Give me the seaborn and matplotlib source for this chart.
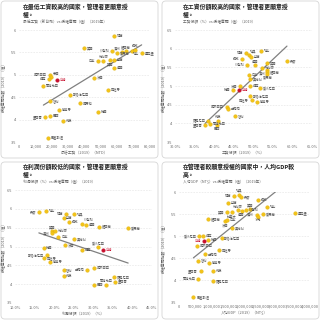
import matplotlib
matplotlib.use("Agg")
import matplotlib.pyplot as plt
import seaborn as sns
import numpy as np
import pandas as pd
from matplotlib.patches import FancyBboxPatch
from matplotlib.ticker import FuncFormatter

sns.set_style("white")
plt.rcParams['font.family'] = ['Noto Sans CJK TC', 'DejaVu Sans']

# Panel 1: minimum wage (NTD) vs willingness to delegate
names_1 = ["荷蘭", "美國", "以色列", "愛爾蘭", "澳洲", "紐西蘭", "瑞士", "挪威", "盧森堡",
           "日本", "比利時", "英國", "芬蘭", "德國", "馬來西亞", "泰國", "台灣", "捷克",
           "哥倫比亞", "法國", "西班牙", "斯洛維尼亞", "智利", "馬爾他", "葡萄牙", "韓國",
           "墨西哥", "巴西", "希臘", "巴基斯坦"]
min_wage = [58200, 39900, 57000, 60000, 62700, 65300, 68800, 70800, 74900,
            48000, 51500, 55600, 58200, 58200, 18900, 19500, 23000, 18500,
            14900, 46000, 54100, 31100, 18900, 37300, 24600, 48500,
            15900, 18900, 26700, 17900]
deleg_1 = [5.87, 5.60, 5.53, 5.48, 5.50, 5.53, 5.54, 5.55, 5.49,
           5.31, 5.31, 5.33, 5.34, 5.16, 4.99, 4.94, 4.88, 4.90,
           4.75, 4.93, 4.67, 4.56, 4.42, 4.36, 4.21, 4.17,
           4.06, 4.07, 3.97, 3.60]

# Panel 2: labour share (%) vs willingness to delegate
names_2 = ["瑞士", "丹麥", "荷蘭", "瑞典", "芬蘭", "挪威", "以色列", "德國", "比利時",
           "英國", "澳洲", "紐西蘭", "愛爾蘭", "日本", "奧地利", "法國", "台灣", "韓國",
           "捷克", "愛沙尼亞", "斯洛維尼亞", "西班牙", "葡萄牙", "馬來西亞", "立陶宛",
           "智利", "羅馬尼亞", "希臘", "墨西哥", "哥倫比亞", "巴西"]
labour_share = [52.0, 58.6, 48.2, 48.8, 49.4, 47.2, 48.5, 50.5, 52.2,
                53.5, 53.6, 53.6, 53.6, 48.8, 49.1, 46.6, 46.3, 44.9,
                49.1, 51.8, 49.2, 49.6, 50.9, 43.2, 43.6,
                45.4, 38.5, 41.1, 37.7, 39.0, 40.8]
deleg_2 = [5.94, 5.67, 5.89, 5.83, 5.77, 5.73, 5.56, 5.55, 5.48,
           5.61, 5.43, 5.38, 5.33, 5.30, 5.18, 4.99, 4.88, 4.90,
           4.99, 4.94, 4.72, 4.63, 4.57, 4.43, 4.38,
           4.19, 4.07, 4.07, 3.96, 3.99, 3.96]

# Panel 3: profit share (%) vs willingness to delegate
names_3 = ["瑞士", "丹麥", "荷蘭", "瑞典", "芬蘭", "挪威", "以色列", "德國", "紐西蘭",
           "愛爾蘭", "英國", "比利時", "澳洲", "日本", "奧地利", "法國", "捷克", "韓國",
           "愛沙尼亞", "台灣", "斯洛維尼亞", "西班牙", "葡萄牙", "馬來西亞", "立陶宛",
           "智利", "希臘", "羅馬尼亞", "墨西哥", "哥倫比亞", "巴西"]
profit_share = [17.9, 16.1, 23.1, 25.1, 22.4, 23.7, 27.1, 28.2, 31.5,
                38.9, 19.4, 20.2, 19.4, 21.1, 25.0, 22.8, 27.1, 17.3,
                31.3, 32.5, 18.1, 17.3, 19.0, 30.3, 28.4,
                22.4, 22.4, 35.2, 35.6, 33.3, 30.1]
deleg_3 = [5.94, 5.91, 5.86, 5.86, 5.75, 5.64, 5.60, 5.56, 5.53,
           5.49, 5.42, 5.41, 5.35, 5.25, 5.19, 5.03, 4.91, 4.96,
           4.99, 4.91, 4.78, 4.69, 4.59, 4.44, 4.38,
           4.38, 4.21, 4.19, 4.07, 3.99, 3.97]

# Panel 4: GDP per capita (NT$) vs willingness to delegate
names_4 = ["瑞典", "丹麥", "荷蘭", "芬蘭", "挪威", "瑞士", "盧森堡", "美國", "以色列",
           "德國", "比利時", "英國", "加拿大", "愛爾蘭", "澳洲", "冰島", "紐西蘭", "法國",
           "日本", "奧地利", "捷克", "愛沙尼亞", "台灣", "韓國", "斯洛維尼亞", "馬來西亞",
           "西班牙", "立陶宛", "智利", "葡萄牙", "墨西哥", "希臘", "哥倫比亞", "羅馬尼亞",
           "巴基斯坦"]
gdp_pc = [1830000, 1890000, 1680000, 1510000, 2420000, 2700000, 3540000, 2170000, 2050000,
          1910000, 1790000, 1460000, 1610000, 2580000, 2370000, 2420000, 900000, 1400000,
          1460000, 1610000, 740000, 620000, 770000, 900000, 1300000, 540000,
          1230000, 790000, 590000, 930000, 660000, 1050000, 590000, 1050000,
          440000]
deleg_4 = [5.94, 5.89, 5.92, 5.76, 5.81, 5.67, 5.52, 5.61, 5.60,
           5.56, 5.58, 5.54, 5.54, 5.50, 5.48, 5.44, 5.38, 5.33,
           5.37, 5.18, 5.00, 5.00, 4.89, 4.91, 4.95, 4.77,
           4.68, 4.58, 4.44, 4.39, 4.20, 4.20, 4.02, 3.98,
           3.61]

titles = ["在最低工資較高的國家，管理者更願意授\n權。",
          "在工資份額較高的國家，管理者更願意授\n權。",
          "在利潤份額較低的國家，管理者更願意授\n權。",
          "在管理者較願意授權的國家中，人均GDP較\n高。"]
subtitles = ["最低工資（新台幣）vs 授權意願（值）（2019年）",
             "工資份額（%）vs 授權意願（值）（2019）",
             "利潤份額（%）vs 授權意願（值）（2019）",
             "人均GDP（NT$）vs 授權意願（值）（2019年）"]
xlabels = ["最低工資（2019）（NTD）", "工資份額（2019）（%）",
           "利潤份額（2019）（%）", "人均GDP（2019）（NT$）"]
ylabel = "授權意願指數（2019）（值）"

GOLD = "#f2c318"
RED = "#c8102e"
GREY = "#666666"
LABEL_PT = 2.3

fig = plt.figure(figsize=(3.2, 3.2), dpi=100)

def px(v):
    return v / 320

# panel boxes
for bx, by in [(1, 1), (162, 1), (1, 162), (162, 162)]:
    box = FancyBboxPatch((px(bx), 1 - px(by + 157)), px(157), px(157),
                         boxstyle="round,pad=0,rounding_size=0.012",
                         transform=fig.transFigure, fc="none", ec="#d6d6d6", lw=0.6,
                         zorder=-5)
    fig.patches.append(box)

comma = FuncFormatter(lambda v, p: f"{v:,.0f}")
pct = FuncFormatter(lambda v, p: f"{v:.1f}%")

panels = [
    dict(x=min_wage, y=deleg_1, n=names_1, rect=(19, 30, 150, 142), off=(0, 0),
         xlim=(0, 80000), xt=range(0, 80001, 10000), ylim=(3.5, 6.0), fmt=comma),
    dict(x=labour_share, y=deleg_2, n=names_2, rect=(15, 30, 152, 142), off=(160, 0),
         xlim=(30, 65), xt=range(30, 66, 5), ylim=(3.5, 6.5), fmt=pct),
    dict(x=profit_share, y=deleg_3, n=names_3, rect=(15, 30, 152, 143), off=(0, 160),
         xlim=(10, 45), xt=range(10, 46, 5), ylim=(3.5, 6.5), fmt=pct),
    dict(x=gdp_pc, y=deleg_4, n=names_4, rect=(19, 32, 150, 142), off=(160, 160),
         xlim=(0, 4000000), xt=range(0, 4000001, 500000), ylim=(3.5, 6.0), fmt=comma),
]


def overlaps(a, b):
    return not (a[2] <= b[0] or b[2] <= a[0] or a[3] <= b[1] or b[3] <= a[1])


def place_labels(ax, df, l, t, r, b, xlim, ylim):
    # greedy label placement in panel pixel space to keep labels apart
    cw = LABEL_PT * 100 / 72 * 1.02
    h = LABEL_PT * 100 / 72 * 1.15
    pxs = l + (df["x"] - xlim[0]) / (xlim[1] - xlim[0]) * (r - l)
    pys = t + (ylim[1] - df["y"]) / (ylim[1] - ylim[0]) * (b - t)
    taken = [(X - 1.3, Y - 1.3, X + 1.3, Y + 1.3) for X, Y in zip(pxs, pys)]
    order = np.argsort(pxs.values)
    for k in order:
        row = df.iloc[k]
        X, Y = pxs.iloc[k], pys.iloc[k]
        w = cw * len(row["name"])
        cands = [
            ("right", (X + 2, Y - h / 2, X + 2 + w, Y + h / 2), (2, 0), "left", "center"),
            ("left", (X - 2 - w, Y - h / 2, X - 2, Y + h / 2), (-2, 0), "right", "center"),
            ("above", (X - w / 2, Y - 1.8 - h, X + w / 2, Y - 1.8), (0, 1.3), "center", "bottom"),
            ("below", (X - w / 2, Y + 1.8, X + w / 2, Y + 1.8 + h), (0, -1.3), "center", "top"),
            ("upright", (X + 1.5, Y - 1.5 - h, X + 1.5 + w, Y - 1.5), (1.1, 1.1), "left", "bottom"),
            ("downright", (X + 1.5, Y + 1.5, X + 1.5 + w, Y + 1.5 + h), (1.1, -1.1), "left", "top"),
            ("upleft", (X - 1.5 - w, Y - 1.5 - h, X - 1.5, Y - 1.5), (-1.1, 1.1), "right", "bottom"),
            ("downleft", (X - 1.5 - w, Y + 1.5, X - 1.5, Y + 1.5 + h), (-1.1, -1.1), "right", "top"),
        ]
        own = taken[k]
        choice = None
        for c in cands:
            bb = c[1]
            if bb[0] < l - 14 or bb[2] > r + 4 or bb[1] < t - 4 or bb[3] > b:
                continue
            if any(overlaps(bb, o) for j, o in enumerate(taken) if o is not own):
                continue
            choice = c
            break
        if choice is None:
            choice = cands[0] if X < (l + r) / 2 + 40 else cands[1]
        taken.append(choice[1])
        ax.annotate(row["name"], (row["x"], row["y"]), xytext=choice[2],
                    textcoords="offset points", ha=choice[3], va=choice[4],
                    fontsize=LABEL_PT, color=RED if row["tw"] else "#555555")


for i, p in enumerate(panels):
    ox, oy = p["off"]
    l, t, r, b = p["rect"]
    ax = fig.add_axes([px(ox + l), 1 - px(oy + b), px(r - l), px(b - t)])
    ax.set_facecolor("none")
    df = pd.DataFrame({"x": np.asarray(p["x"], float), "y": p["y"], "name": p["n"]})
    df["tw"] = df["name"] == "台灣"

    # linear trend line over the data range (seaborn regression)
    sns.regplot(data=df, x="x", y="y", scatter=False, ci=None, truncate=True, ax=ax,
                line_kws=dict(color="#808080", linewidth=0.9, zorder=2))

    sns.scatterplot(data=df[~df["tw"]], x="x", y="y", color=GOLD, s=7,
                    edgecolor="#d9a800", linewidth=0.2, ax=ax, zorder=3)
    sns.scatterplot(data=df[df["tw"]], x="x", y="y", color=RED, s=7,
                    edgecolor=RED, linewidth=0.2, ax=ax, zorder=4)

    place_labels(ax, df, l, t, r, b, p["xlim"], p["ylim"])

    ax.set_xlim(*p["xlim"])
    ax.set_ylim(*p["ylim"])
    ax.set_xticks(list(p["xt"]))
    ax.xaxis.set_major_formatter(p["fmt"])
    yt = [p["ylim"][0] + 0.5 * k for k in range(int((p["ylim"][1] - p["ylim"][0]) / 0.5) + 1)]
    ax.set_yticks(yt)
    ax.yaxis.set_major_formatter(FuncFormatter(lambda v, q: f"{v:g}"))
    ax.tick_params(labelsize=2.8, colors=GREY, length=0, pad=2)
    ax.grid(axis="y", color="#e2e2e2", lw=0.4, ls=(0, (3, 2)))
    for s in ax.spines.values():
        s.set_visible(False)
    ax.set_xlabel(xlabels[i], fontsize=2.8, color=GREY, labelpad=1.5)
    ax.set_ylabel(ylabel, fontsize=2.8, color=GREY)
    ax.yaxis.set_label_coords((6 - l) / (r - l), 0.5)

    fig.text(px(ox + 23), 1 - px(oy + 4), titles[i], fontsize=4.2, fontweight="bold",
             color="#222222", ha="left", va="top", linespacing=1.35)
    fig.text(px(ox + 23), 1 - px(oy + 20), subtitles[i], fontsize=2.7, color=GREY,
             ha="left", va="top")

fig.savefig("out.png", dpi=100)
